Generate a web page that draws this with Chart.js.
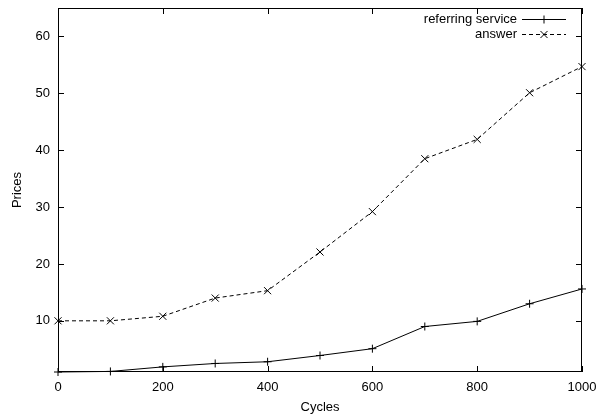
<!DOCTYPE html>
<html>
<head>
<meta charset="utf-8">
<script src="https://cdn.jsdelivr.net/npm/chart.js@4"></script>
<style>
  html, body { margin: 0; padding: 0; background: #fff; }
  #wrap { width: 597px; height: 415px; }
</style>
</head>
<body>
<div id="wrap"><canvas id="myChart" width="597" height="415"></canvas></div>
<script>
// values
const cycles = [0, 100, 200, 300, 400, 500, 600, 700, 800, 900, 1000];
const referring = [1.0, 1.1, 1.9, 2.5, 2.8, 3.9, 5.1, 9.0, 9.9, 13.0, 15.6];
const answer = [10.0, 10.0, 10.8, 14.0, 15.3, 22.1, 29.2, 38.5, 41.9, 50.1, 54.7];
const xTicks = [0, 200, 400, 600, 800, 1000];
const yTicks = [10, 20, 30, 40, 50, 60];

const FONT = 'Liberation Sans, Arial, Helvetica, sans-serif';

// gnuplot style frame: border, inward ticks on all four sides, legend top right
const gnuFrame = {
  id: 'gnuFrame',
  afterDraw(chart) {
    const c = chart.ctx, a = chart.chartArea;
    const xs = chart.scales.x, ys = chart.scales.y;
    const tl = 6;
    c.save();
    c.strokeStyle = '#000';
    c.lineWidth = 1;
    c.strokeRect(a.left + 0.5, a.top + 0.5, a.right - a.left - 1, a.bottom - a.top - 1);
    c.beginPath();
    xTicks.forEach(v => {
      const px = Math.round(xs.getPixelForValue(v)) + 0.5;
      c.moveTo(px, a.bottom); c.lineTo(px, a.bottom - tl);
      c.moveTo(px, a.top); c.lineTo(px, a.top + tl);
    });
    yTicks.forEach(v => {
      const py = Math.round(ys.getPixelForValue(v)) + 0.5;
      c.moveTo(a.left, py); c.lineTo(a.left + tl, py);
      c.moveTo(a.right, py); c.lineTo(a.right - tl, py);
    });
    c.stroke();

    // legend
    c.font = '13px ' + FONT;
    c.textAlign = 'right';
    c.textBaseline = 'middle';
    chart.data.datasets.forEach((ds, i) => {
      const y = 19 + i * 15;
      c.fillStyle = '#000';
      c.fillText(ds.label, 517, y);
      c.beginPath();
      c.setLineDash(ds.borderDash || []);
      c.moveTo(522, y + 0.5); c.lineTo(566, y + 0.5);
      c.stroke();
      c.setLineDash([]);
      Chart.helpers.drawPoint(c, {pointStyle: ds.pointStyle, radius: ds.pointRadius, rotation: 0, borderWidth: 1}, 544, y + 0.5);
    });
    c.restore();
  }
};

const ctx = document.getElementById('myChart').getContext('2d');
const myChart = new Chart(ctx, {
  type: 'line',
  data: {
    labels: cycles,
    datasets: [{
      label: 'referring service',
      data: referring,
      borderColor: '#000',
      borderWidth: 1,
      pointStyle: 'cross',
      pointRadius: 4,
      pointBorderColor: '#000',
      pointBorderWidth: 1,
      fill: false,
      tension: 0,
      clip: false
    }, {
      label: 'answer',
      data: answer,
      borderColor: '#000',
      borderWidth: 1,
      borderDash: [4, 3],
      pointStyle: 'crossRot',
      pointRadius: 5,
      pointBorderColor: '#000',
      pointBorderWidth: 1,
      fill: false,
      tension: 0,
      clip: false
    }]
  },
  options: {
    responsive: false,
    animation: false,
    layout: { padding: { left: 0, right: 15, top: 8, bottom: 0 } },
    plugins: { legend: { display: false }, tooltip: { enabled: false } },
    scales: {
      x: {
        type: 'linear',
        min: 0, max: 1000,
        afterBuildTicks: s => { s.ticks = xTicks.map(v => ({ value: v })); },
        afterFit: s => { s.height = 43; s.paddingLeft = 0; s.paddingRight = 0; },
        grid: { display: false, drawTicks: false },
        border: { display: false },
        ticks: { color: '#000', font: { family: FONT, size: 13 }, padding: 8, maxRotation: 0, callback: v => String(v) },
        title: { display: true, text: 'Cycles', color: '#000', font: { family: FONT, size: 13 }, padding: { top: 2, bottom: 0 } }
      },
      y: {
        min: 1, max: 65,
        afterBuildTicks: s => { s.ticks = yTicks.map(v => ({ value: v })); },
        afterFit: s => { s.width = 58; s.paddingTop = 0; s.paddingBottom = 0; },
        grid: { display: false, drawTicks: false },
        border: { display: false },
        ticks: { color: '#000', font: { family: FONT, size: 13 }, padding: 8, callback: v => String(v) },
        title: { display: true, text: 'Prices', color: '#000', font: { family: FONT, size: 13 }, padding: { top: 10, bottom: 0 } }
      }
    }
  },
  plugins: [gnuFrame]
});
</script>
</body>
</html>
